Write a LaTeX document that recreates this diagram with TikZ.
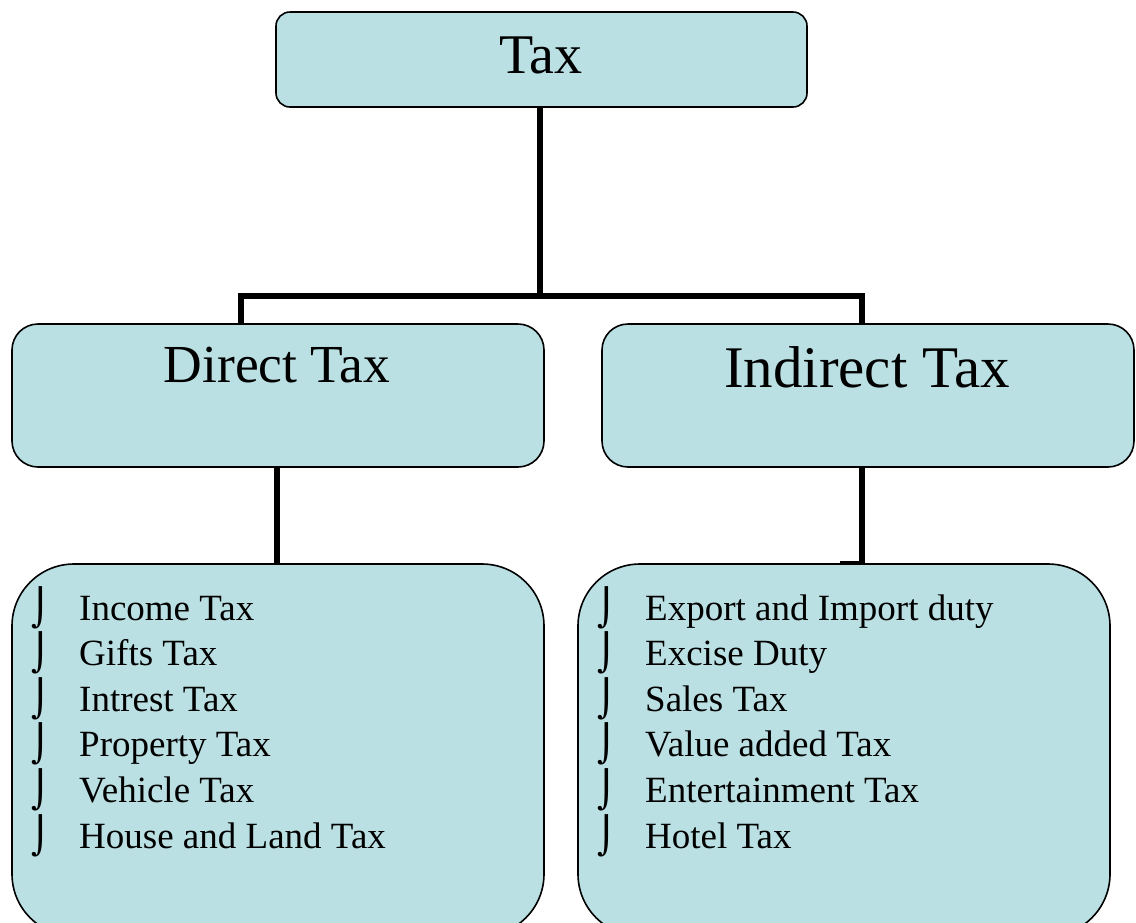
\documentclass[tikz,border=0pt]{standalone}
\usepackage{fontspec}
\setmainfont{Liberation Serif}
\newfontfamily\bulletfont{DejaVu Sans}
\definecolor{boxfill}{RGB}{186,224,227}
\begin{document}
\begin{tikzpicture}[x=1pt,y=-1pt,
  box/.style={draw=black,line width=1.6pt,fill=boxfill},
  conn/.style={draw=black,line width=5.5pt},
  item/.style={anchor=base west,inner sep=0pt,font=\fontsize{37}{37}\selectfont},
  bul/.style={anchor=base west,inner sep=0pt,font=\bulletfont\fontsize{36}{36}\selectfont}]
\useasboundingbox (0,0) rectangle (1136,922);
% boxes
\draw[box,rounded corners=14pt] (276,12) rectangle (807,107);
\draw[box,rounded corners=26pt] (12,324) rectangle (544,467);
\draw[box,rounded corners=26pt] (602,324) rectangle (1134,467);
\draw[box,rounded corners=62pt] (12,564) rectangle (544,936);
\draw[box,rounded corners=62pt] (578,564) rectangle (1110,936);
% titles
\node[anchor=base,inner sep=0pt,font=\fontsize{56}{56}\selectfont] (tax) at (541,73) {Tax};
\node[anchor=base,inner sep=0pt,font=\fontsize{53.5}{53.5}\selectfont] (direct) at (277,382) {Direct Tax};
\node[anchor=base,inner sep=0pt,font=\fontsize{59}{59}\selectfont] (indirect) at (867,387) {Indirect Tax};
% connectors
\coordinate (taxb) at (540,107);
\coordinate (mid) at (540,296);
\coordinate (dtop) at (241,323);
\coordinate (itop) at (862,323);
\coordinate (db) at (277,467);
\coordinate (dl) at (277,564);
\coordinate (ib) at (862,467);
\coordinate (il) at (862,564);
\draw[conn] (taxb) -- (mid);
\draw[conn,line join=miter] (dtop) |- (mid) -| (itop);
\draw[conn] (db) -- (dl);
\draw[conn] (ib) -- (il);
\draw[draw=black,line width=3pt] (840,562) -- (862,562);
% left list
\foreach \t [count=\i from 0] in {Income Tax,Gifts Tax,Intrest Tax,Property Tax,Vehicle Tax,House and Land Tax}{
  \node[bul] (lb\i) at (31,{620+45.6*\i}) {⌡};
  \node[item] (li\i) at (79,{620+45.6*\i}) {\t};
}
% right list
\foreach \t [count=\i from 0] in {Export and Import duty,Excise Duty,Sales Tax,Value added Tax,Entertainment Tax,Hotel Tax}{
  \node[bul] (rb\i) at (597,{620+45.6*\i}) {⌡};
  \node[item] (ri\i) at (645,{620+45.6*\i}) {\t};
}
\end{tikzpicture}
\end{document}
